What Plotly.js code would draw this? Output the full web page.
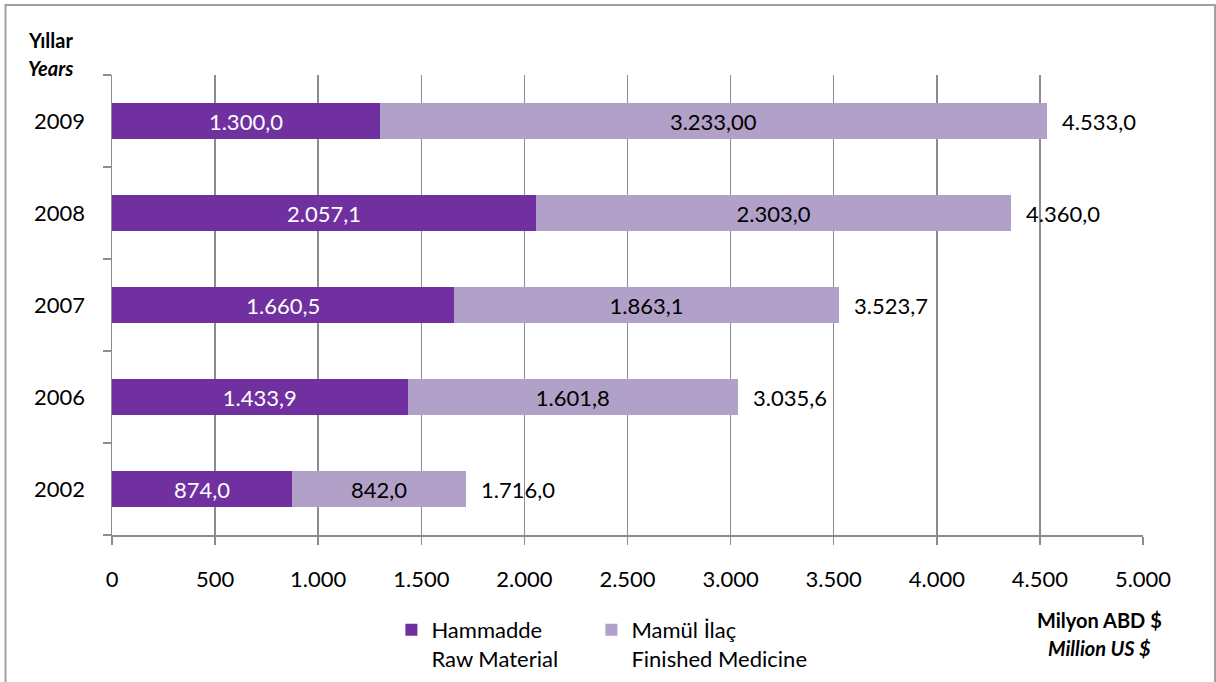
<!DOCTYPE html>
<html>
<head>
<meta charset="utf-8">
<script src="https://cdn.plot.ly/plotly-3.0.1.min.js"></script>
<style>html,body{margin:0;padding:0;background:#fff;}#chart{width:1216px;height:682px;}</style>
</head>
<body>
<div id="chart"></div>
<script>
const years = ['2002', '2006', '2007', '2008', '2009'];
const rawMaterial = [874.0, 1433.9, 1660.5, 2057.1, 1300.0];
const finishedMedicine = [842.0, 1601.8, 1863.1, 2303.0, 3233.0];
const totals = [1716.0, 3035.6, 3523.7, 4360.0, 4533.0];
const rawLabels = ['874,0', '1.433,9', '1.660,5', '2.057,1', '1.300,0'];
const finishedLabels = ['842,0', '1.601,8', '1.863,1', '2.303,0', '3.233,00'];
const totalLabels = ['1.716,0', '3.035,6', '3.523,7', '4.360,0', '4.533,0'];
const xTicks = [0, 500, 1000, 1500, 2000, 2500, 3000, 3500, 4000, 4500, 5000];

const FONT = 'Lato, "Open Sans", sans-serif';
const DARK = '#7030A0';
const LIGHT = '#B1A0C7';
const GRID = '#8C8C8C';
const FS = 22;

const traces = [
  {
    type: 'bar', orientation: 'h', name: 'Hammadde<br>Raw Material',
    y: years, x: rawMaterial, text: rawLabels,
    textposition: 'inside', insidetextanchor: 'middle', textangle: 0,
    textfont: {family: FONT, size: FS, color: '#ffffff'},
    marker: {color: DARK}, hoverinfo: 'x+y', legend: 'legend'
  },
  {
    type: 'bar', orientation: 'h', name: 'Mamül İlaç<br>Finished Medicine',
    y: years, x: finishedMedicine, text: finishedLabels,
    textposition: 'inside', insidetextanchor: 'middle', textangle: 0,
    textfont: {family: FONT, size: FS, color: '#000000'},
    marker: {color: LIGHT}, hoverinfo: 'x+y', legend: 'legend2'
  }
];

const annotations = years.map((yr, i) => ({
  x: totals[i], y: i, xref: 'x', yref: 'y',
  text: totalLabels[i], showarrow: false,
  xanchor: 'left', yanchor: 'middle', xshift: 13,
  font: {family: FONT, size: FS, color: '#000'}
}));
annotations.push({
  xref: 'paper', yref: 'paper', x: -0.0834, y: 1.076,
  xanchor: 'left', yanchor: 'middle', showarrow: false, align: 'left',
  text: '<b>Yıllar</b>', font: {family: FONT, size: 20, color: '#000'}
});
annotations.push({
  xref: 'paper', yref: 'paper', x: -0.0834, y: 1.015,
  xanchor: 'left', yanchor: 'middle', showarrow: false, align: 'left',
  text: '<b><i>Years</i></b>', font: {family: FONT, size: 20, color: '#000'}
});
annotations.push({
  xref: 'paper', yref: 'paper', x: 0.958, y: -0.185,
  xanchor: 'center', yanchor: 'middle', showarrow: false,
  text: '<b>Milyon ABD $</b>', font: {family: FONT, size: 20, color: '#000'}
});
annotations.push({
  xref: 'paper', yref: 'paper', x: 0.958, y: -0.245,
  xanchor: 'center', yanchor: 'middle', showarrow: false,
  text: '<b><i>Million US $</i></b>', font: {family: FONT, size: 20, color: '#000'}
});

const legendBase = {
  orientation: 'h', xanchor: 'left', y: -0.161, yanchor: 'top',
  valign: 'top', font: {family: FONT, size: FS, color: '#000'}, bgcolor: 'rgba(0,0,0,0)'
};

const layout = {
  width: 1216, height: 682,
  margin: {l: 112, r: 73, t: 75, b: 147, autoexpand: false},
  paper_bgcolor: '#ffffff', plot_bgcolor: '#ffffff',
  font: {family: FONT, size: FS, color: '#000'},
  barmode: 'stack', bargap: 0.6,
  separators: ',.',
  xaxis: {
    range: [0, 5000], autorange: false, tickvals: xTicks, tickformat: ',d', separatethousands: true,
    showgrid: true, gridcolor: GRID, gridwidth: 1.5,
    showline: true, linecolor: GRID, linewidth: 1.5,
    ticks: 'outside', ticklen: 8, tickcolor: GRID, tickwidth: 1.5,
    ticklabelstandoff: 16, zeroline: false, fixedrange: true,
    tickfont: {family: FONT, size: FS, color: '#000'}
  },
  yaxis: {
    type: 'category', categoryorder: 'array', categoryarray: years,
    range: [-0.5, 4.5], autorange: false,
    showline: true, linecolor: GRID, linewidth: 1.5,
    ticks: 'outside', tickson: 'boundaries', ticklen: 8, tickcolor: GRID, tickwidth: 1.5,
    ticklabelstandoff: 21, showgrid: false, fixedrange: true,
    tickfont: {family: FONT, size: FS, color: '#000'}
  },
  showlegend: true,
  legend: Object.assign({}, legendBase, {x: 0.271}),
  legend2: Object.assign({}, legendBase, {x: 0.465}),
  annotations: annotations,
  shapes: [{
    type: 'rect', xref: 'paper', yref: 'paper',
    x0: -0.1033, x1: 1.0699, y0: -0.33, y1: 1.152,
    line: {color: '#A0A0A0', width: 2}, fillcolor: 'rgba(0,0,0,0)', layer: 'below'
  }]
};

Plotly.newPlot('chart', traces, layout, {displayModeBar: false, staticPlot: true});
</script>
</body>
</html>
